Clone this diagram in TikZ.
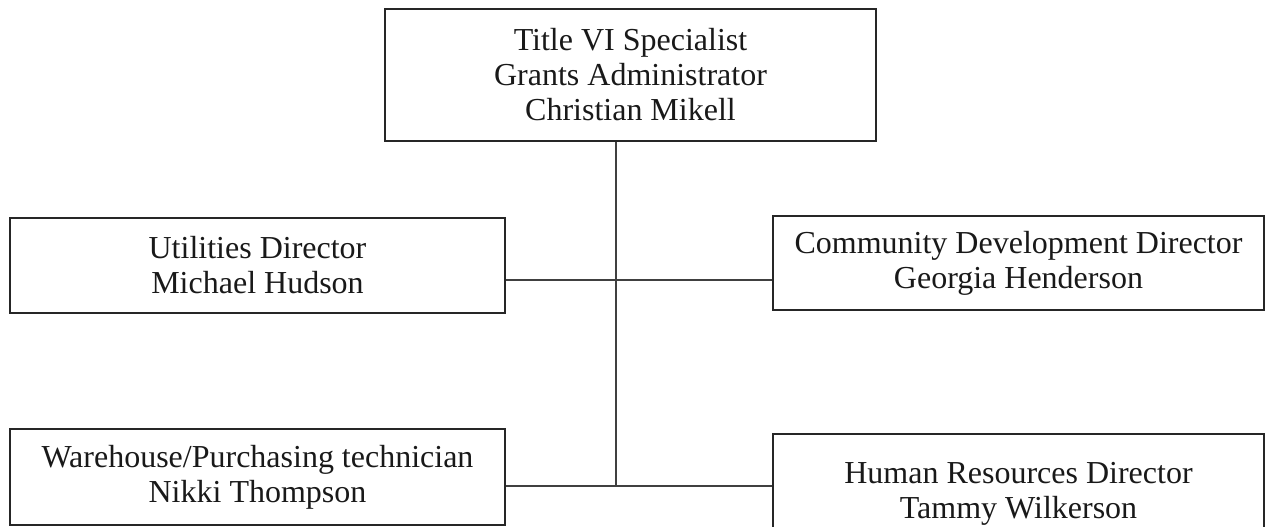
\documentclass[tikz,border=0pt]{standalone}
\usepackage{fontspec}
\setmainfont{Liberation Serif}
\begin{document}
\begin{tikzpicture}[x=1pt,y=1pt,
  box/.style={draw=black!85, line width=2pt, rectangle, inner sep=0pt, align=center,
    font=\fontsize{32}{35}\selectfont, text=black!90},
  link/.style={draw=black!75, line width=1.6pt}]
\useasboundingbox (0,0) rectangle (1266,-527);
\clip (0,0) rectangle (1266,-527);
\node[box, minimum width=491pt, minimum height=132pt] (top) at (630.5,-75)
  {Title VI Specialist\\Grants Administrator\\Christian Mikell};
\node[box, minimum width=495pt, minimum height=95pt] (util) at (257.5,-265.5)
  {Utilities Director\\Michael Hudson};
\node[box, minimum width=491pt, minimum height=94pt] (comm) at (1018.5,-263)
  {Community Development Director\\Georgia Henderson};
\node[box, minimum width=495pt, minimum height=96pt] (ware) at (257.5,-477)
  {Warehouse/Purchasing technician\\Nikki Thompson};
\node[box, minimum width=491pt, minimum height=120pt] (hr) at (1018.5,-494)
  {Human Resources Director\\Tammy Wilkerson};
\coordinate (j1) at (616,-280);
\coordinate (j2) at (616,-486);
\draw[link] (top.south -| j1) -- (j2);
\draw[link] (util.east |- j1) -- (comm.west |- j1);
\draw[link] (ware.east |- j2) -- (hr.west |- j2);
\end{tikzpicture}
\end{document}
